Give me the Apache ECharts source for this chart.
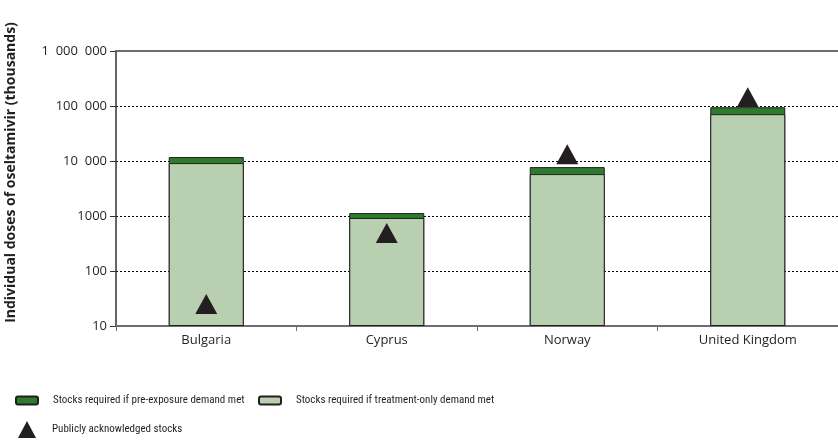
<!DOCTYPE html>
<html>
<head>
<meta charset="utf-8">
<script src="https://cdn.jsdelivr.net/npm/echarts@6/dist/echarts.min.js"></script>
<style>
  html, body { margin: 0; padding: 0; background: #fff; }
  #chart { width: 838px; height: 448px; }
</style>
</head>
<body>
<div id="chart"></div>
<script>
// countries on the x axis
var countries = ['Bulgaria', 'Cyprus', 'Norway', 'United Kingdom'];
// top of the dark green part (pre-exposure demand), thousands of doses
var preExposure = [11800, 1130, 7740, 95000];
// top of the light green part (treatment-only demand)
var treatmentOnly = [9160, 920, 5780, 71000];
// triangles: publicly acknowledged stocks
var acknowledged = [25, 490, 13300, 144000];
// y tick labels
var yTickLabels = {
  10: '10',
  100: '100',
  1000: '1000',
  10000: '10  000',
  100000: '100  000',
  1000000: '1  000  000'
};

var ink = '#231f20';
var legendFont = { fontFamily: 'Roboto Condensed', fontSize: 11, color: ink, padding: [0, 0, 0, 10] };
var chart = echarts.init(document.getElementById('chart'));

var option = {
  backgroundColor: '#fff',
  animation: false,
  textStyle: { fontFamily: 'Open Sans' },
  grid: {
    left: 116,
    right: 0,
    top: 51,
    bottom: 122,
    outerBoundsMode: 'none',
    containLabel: false
  },
  legend: [
    {
      left: 15,
      top: 395,
      padding: 0,
      itemWidth: 22,
      itemHeight: 8,
      data: ['Stocks required if pre-exposure demand met'],
      textStyle: legendFont
    },
    {
      left: 258,
      top: 395,
      padding: 0,
      itemWidth: 22,
      itemHeight: 8,
      data: ['Stocks required if treatment-only demand met'],
      textStyle: legendFont
    },
    {
      left: 18,
      top: 421,
      padding: 0,
      itemWidth: 18,
      itemHeight: 17,
      data: [{ name: 'Publicly acknowledged stocks', icon: 'triangle' }],
      textStyle: { fontFamily: 'Roboto Condensed', fontSize: 11, color: ink, padding: [0, 0, 0, 11] }
    }
  ],
  xAxis: [
    {
      type: 'category',
      data: countries,
      axisLine: { lineStyle: { color: '#6d6e71', width: 2 } },
      axisTick: { show: true, length: 5, lineStyle: { color: '#6d6e71' } },
      axisLabel: { color: ink, fontSize: 13, margin: 8 }
    },
    {
      type: 'category',
      position: 'top',
      data: countries,
      axisLine: { lineStyle: { color: '#6d6e71', width: 2 } },
      axisTick: { show: false },
      axisLabel: { show: false }
    }
  ],
  yAxis: {
    type: 'log',
    logBase: 10,
    min: 10,
    max: 1000000,
    startValue: 10,
    name: 'Individual doses of oseltamivir (thousands)',
    nameLocation: 'middle',
    nameGap: 98,
    nameTextStyle: { color: ink, fontSize: 14, fontWeight: 'bold', padding: [0, 0, 0, 32] },
    axisLine: { show: true, lineStyle: { color: '#333', width: 1.5 } },
    axisTick: { show: true, length: 6, lineStyle: { color: '#333' } },
    axisLabel: {
      color: ink,
      fontSize: 13,
      margin: 9,
      formatter: function (v) { return yTickLabels[v] || ''; }
    },
    splitLine: { show: true, lineStyle: { color: '#000', width: 1, type: [2, 2] } }
  },
  series: [
    {
      name: 'Stocks required if pre-exposure demand met',
      type: 'bar',
      data: preExposure,
      barWidth: 75,
      clip: true,
      itemStyle: { color: '#2e7b2e', borderColor: ink, borderWidth: 1 }
    },
    {
      name: 'Stocks required if treatment-only demand met',
      type: 'bar',
      data: treatmentOnly,
      barWidth: 75,
      barGap: '-100%',
      clip: true,
      itemStyle: { color: '#b8cfb0', borderColor: ink, borderWidth: 1 }
    },
    {
      name: 'Publicly acknowledged stocks',
      type: 'scatter',
      data: acknowledged,
      symbol: 'triangle',
      symbolSize: [22, 20],
      itemStyle: { color: ink, opacity: 1 },
      z: 5
    }
  ]
};

chart.setOption(option);
</script>
</body>
</html>
